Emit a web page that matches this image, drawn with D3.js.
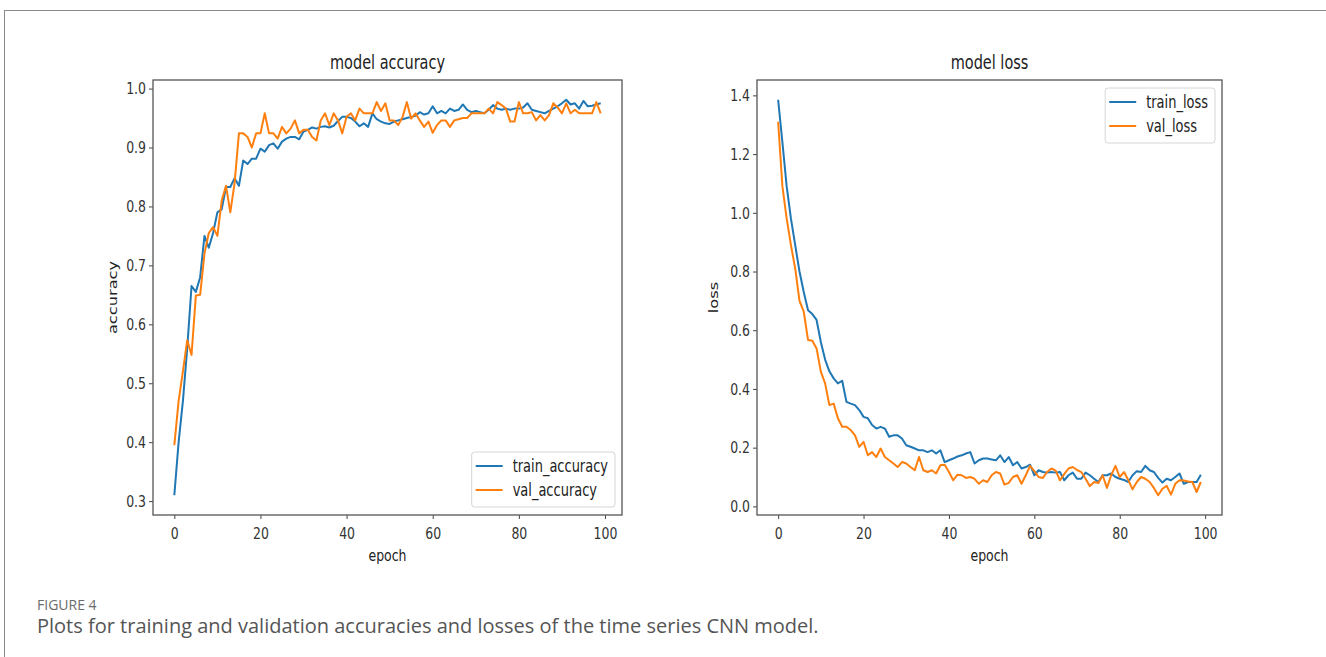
<!DOCTYPE html>
<html>
<head>
<meta charset="utf-8">
<script src="https://cdn.jsdelivr.net/npm/d3@7"></script>
<style>
  body { margin: 0; background: #fff; }
  .tick text { font-family: "DejaVu Sans", sans-serif; fill: #333; }
</style>
</head>
<body>
<div id="chart"></div>
<script>
// values, one per epoch
const epochs = d3.range(0, 100);

const trainAcc = [0.31, 0.40, 0.47, 0.56, 0.665, 0.655, 0.68, 0.75, 0.73, 0.755,
  0.79, 0.795, 0.833, 0.833, 0.848, 0.835, 0.878, 0.872, 0.881, 0.881,
  0.898, 0.893, 0.904, 0.907, 0.898, 0.910, 0.915, 0.918, 0.918, 0.914,
  0.927, 0.930, 0.934, 0.932, 0.935, 0.936, 0.934, 0.937, 0.945, 0.952,
  0.952, 0.950, 0.944, 0.936, 0.941, 0.935, 0.958, 0.948, 0.944, 0.941,
  0.940, 0.944, 0.946, 0.948, 0.950, 0.952, 0.954, 0.960, 0.956, 0.958,
  0.970, 0.958, 0.962, 0.958, 0.966, 0.962, 0.964, 0.973, 0.964, 0.960,
  0.962, 0.960, 0.958, 0.964, 0.972, 0.966, 0.964, 0.966, 0.964, 0.966,
  0.966, 0.968, 0.975, 0.964, 0.962, 0.960, 0.958, 0.962, 0.966, 0.970,
  0.975, 0.981, 0.973, 0.975, 0.966, 0.979, 0.970, 0.971, 0.973, 0.975];

const valAcc = [0.395, 0.47, 0.52, 0.573, 0.548, 0.649, 0.65, 0.72, 0.755, 0.765,
  0.75, 0.81, 0.835, 0.79, 0.84, 0.924, 0.924, 0.918, 0.90, 0.924,
  0.924, 0.958, 0.924, 0.924, 0.915, 0.935, 0.924, 0.932, 0.946, 0.924,
  0.93, 0.93, 0.918, 0.912, 0.946, 0.958, 0.938, 0.958, 0.946, 0.924,
  0.952, 0.958, 0.946, 0.966, 0.958, 0.958, 0.958, 0.977, 0.962, 0.975,
  0.946, 0.946, 0.938, 0.952, 0.977, 0.949, 0.958, 0.946, 0.935, 0.944,
  0.925, 0.938, 0.946, 0.946, 0.935, 0.946, 0.948, 0.950, 0.950, 0.958,
  0.958, 0.958, 0.958, 0.966, 0.958, 0.977, 0.972, 0.966, 0.944, 0.944,
  0.977, 0.958, 0.958, 0.960, 0.946, 0.955, 0.946, 0.955, 0.975, 0.968,
  0.958, 0.975, 0.958, 0.964, 0.958, 0.958, 0.958, 0.958, 0.977, 0.958];

const trainLoss = [1.385, 1.24, 1.09, 0.98, 0.89, 0.80, 0.73, 0.668, 0.655, 0.635,
  0.56, 0.50, 0.46, 0.436, 0.419, 0.428, 0.356, 0.35, 0.345, 0.328,
  0.305, 0.30, 0.277, 0.265, 0.271, 0.265, 0.237, 0.242, 0.242, 0.231,
  0.208, 0.203, 0.197, 0.191, 0.191, 0.185, 0.191, 0.18, 0.191, 0.151,
  0.157, 0.163, 0.17, 0.174, 0.18, 0.185, 0.146, 0.157, 0.163, 0.163,
  0.160, 0.157, 0.174, 0.151, 0.168, 0.14, 0.151, 0.129, 0.134, 0.142,
  0.106, 0.123, 0.117, 0.115, 0.117, 0.115, 0.117, 0.089, 0.106, 0.115,
  0.094, 0.094, 0.115, 0.106, 0.094, 0.083, 0.106, 0.106, 0.112, 0.100,
  0.094, 0.090, 0.083, 0.106, 0.12, 0.117, 0.138, 0.123, 0.117, 0.097,
  0.081, 0.094, 0.089, 0.10, 0.112, 0.077, 0.083, 0.083, 0.083, 0.108];

const valLoss = [1.31, 1.09, 0.98, 0.89, 0.81, 0.70, 0.663, 0.567, 0.564, 0.538,
  0.459, 0.419, 0.345, 0.35, 0.30, 0.271, 0.271, 0.26, 0.242, 0.203,
  0.22, 0.174, 0.185, 0.168, 0.197, 0.168, 0.157, 0.146, 0.134, 0.151,
  0.146, 0.134, 0.123, 0.168, 0.123, 0.117, 0.123, 0.112, 0.14, 0.142,
  0.117, 0.089, 0.108, 0.106, 0.097, 0.10, 0.094, 0.077, 0.089, 0.083,
  0.106, 0.117, 0.112, 0.074, 0.08, 0.10, 0.106, 0.077, 0.106, 0.138,
  0.12, 0.10, 0.097, 0.117, 0.129, 0.122, 0.089, 0.11, 0.129, 0.134,
  0.124, 0.117, 0.094, 0.069, 0.083, 0.08, 0.106, 0.063, 0.106, 0.138,
  0.10, 0.117, 0.09, 0.058, 0.083, 0.10, 0.094, 0.083, 0.063, 0.038,
  0.06, 0.07, 0.04, 0.077, 0.089, 0.088, 0.085, 0.083, 0.049, 0.083];

const epochTicks = [0, 20, 40, 60, 80, 100];
const accTicks = [0.3, 0.4, 0.5, 0.6, 0.7, 0.8, 0.9, 1.0];
const lossTicks = [0.0, 0.2, 0.4, 0.6, 0.8, 1.0, 1.2, 1.4];

const W = 1326, H = 657;
const stretch = 1.3; // the picture's text is taller than it is wide
const blue = "#1f77b4", orange = "#ff7f0e";

const svg = d3.select("#chart")
  .append("svg")
  .attr("width", W)
  .attr("height", H);

// page frame (runs off right and bottom)
svg.append("rect")
  .attr("x", 4.5).attr("y", 10.5)
  .attr("width", 1400).attr("height", 700)
  .attr("fill", "none")
  .attr("stroke", "#8a8a8a");

function label(g, x, y, str, size, rotate) {
  const t = g.append("text")
    .attr("transform", rotate
      ? `translate(${x},${y}) rotate(-90) scale(${stretch},1)`
      : `translate(${x},${y}) scale(1,${stretch})`)
    .attr("text-anchor", "middle")
    .attr("dy", "0.35em")
    .style("font-family", "DejaVu Sans, sans-serif")
    .style("font-size", size + "px")
    .attr("fill", "#222")
    .text(str);
  return t;
}

function drawPanel(p) {
  const g = svg.append("g");
  const x = d3.scaleLinear().domain([-4.95, 103.95]).range([p.left, p.right]);
  const all = p.series[0].values.concat(p.series[1].values);
  const [lo, hi] = d3.extent(all);
  const pad = (hi - lo) * 0.05;
  const y = d3.scaleLinear().domain([lo - pad, hi + pad]).range([p.bottom, p.top]);

  const xAxis = g.append("g")
    .attr("transform", `translate(0,${p.bottom})`)
    .call(d3.axisBottom(x).tickValues(epochTicks).tickSize(4).tickFormat(d3.format("d")));
  xAxis.selectAll(".tick text")
    .attr("y", 18.5).attr("dy", 0)
    .attr("transform", `scale(1,${stretch})`)
    .style("font-size", "12.5px");

  const yAxis = g.append("g")
    .attr("transform", `translate(${p.left},0)`)
    .call(d3.axisLeft(y).tickValues(p.ticks).tickSize(4).tickFormat(d3.format(".1f")));
  yAxis.selectAll(".tick text")
    .attr("x", -7)
    .attr("transform", `scale(1,${stretch})`)
    .style("font-size", "12.5px");

  g.selectAll(".domain").remove();
  g.selectAll(".tick line").attr("stroke", "#444");

  const line = d3.line()
    .x((d, i) => x(epochs[i]))
    .y(d => y(d));

  p.series.forEach(s => {
    g.append("path")
      .datum(s.values)
      .attr("fill", "none")
      .attr("stroke", s.color)
      .attr("stroke-width", 2)
      .attr("stroke-linejoin", "round")
      .attr("d", line);
  });

  // spines
  g.append("rect")
    .attr("x", p.left).attr("y", p.top)
    .attr("width", p.right - p.left).attr("height", p.bottom - p.top)
    .attr("fill", "none")
    .attr("stroke", "#555")
    .attr("stroke-width", 1.3);

  const mid = (p.left + p.right) / 2;
  label(g, mid, 62, p.title, 14.5);
  label(g, mid, 555, "epoch", 12.5);
  label(g, p.ylabelX, (p.top + p.bottom) / 2, p.ylabel, 12.5, true);

  // legend
  const lg = g.append("g");
  const box = lg.append("rect")
    .attr("fill", "#fff").attr("fill-opacity", 0.8)
    .attr("stroke", "#d6d6d6")
    .attr("rx", 3);
  const texts = p.series.map((s, i) => {
    lg.append("line")
      .attr("x1", 4).attr("x2", 31)
      .attr("y1", 14 + i * 24).attr("y2", 14 + i * 24)
      .attr("stroke", s.color).attr("stroke-width", 2);
    return label(lg, 0, 14 + i * 24, s.name, 13).attr("text-anchor", "start")
      .attr("transform", `translate(41,${14 + i * 24}) scale(1,${stretch})`);
  });
  const bw = 41 + d3.max(texts, t => t.node().getComputedTextLength()) + 7;
  const bh = 55;
  box.attr("width", bw).attr("height", bh);
  const lx = p.right - 7 - bw;
  const ly = p.legendTop ? p.top + 8 : p.bottom - 8 - bh;
  lg.attr("transform", `translate(${lx},${ly})`);
}

drawPanel({
  left: 153, right: 622, top: 80, bottom: 515,
  title: "model accuracy", ylabel: "accuracy", ylabelX: 113,
  ticks: accTicks, legendTop: false,
  series: [
    { name: "train_accuracy", values: trainAcc, color: blue },
    { name: "val_accuracy", values: valAcc, color: orange }
  ]
});

drawPanel({
  left: 757, right: 1222, top: 80, bottom: 515,
  title: "model loss", ylabel: "loss", ylabelX: 714,
  ticks: lossTicks, legendTop: true,
  series: [
    { name: "train_loss", values: trainLoss, color: blue },
    { name: "val_loss", values: valLoss, color: orange }
  ]
});

// caption
svg.append("text")
  .attr("x", 37).attr("y", 610)
  .style("font-family", "Open Sans, Noto Sans, sans-serif")
  .style("font-size", "14px")
  .attr("fill", "#6b6b6b")
  .text("FIGURE 4");

svg.append("text")
  .attr("x", 37).attr("y", 633)
  .style("font-family", "Open Sans, Noto Sans, sans-serif")
  .style("font-size", "20px")
  .attr("fill", "#555")
  .text("Plots for training and validation accuracies and losses of the time series CNN model.");
</script>
</body>
</html>
